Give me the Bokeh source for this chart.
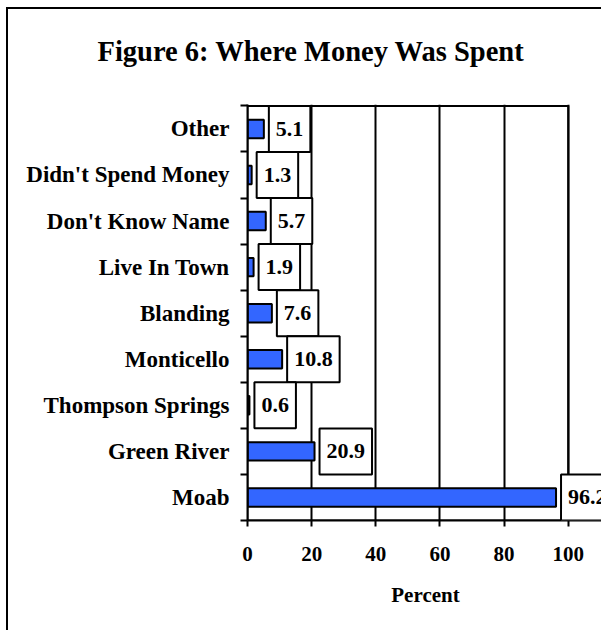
from bokeh.plotting import figure
from bokeh.models import (ColumnDataSource, Label, Range1d, FixedTicker, BoxAnnotation)
from bokeh.embed import file_html
from bokeh.resources import INLINE

# Data (top-to-bottom order as in the chart)
categories = ["Other", "Didn't Spend Money", "Don't Know Name", "Live In Town",
              "Blanding", "Monticello", "Thompson Springs", "Green River", "Moab"]
percent = [5.1, 1.3, 5.7, 1.9, 7.6, 10.8, 0.6, 20.9, 96.2]
x_ticks = [0, 20, 40, 60, 80, 100]

n = len(categories)
ypos = [n - 1 - i + 0.5 for i in range(n)]
labels = [f"{v:.1f}" for v in percent]

src = ColumnDataSource(dict(cat=categories, val=percent, y=ypos, lab=labels))

FONT = "Liberation Serif"
BLUE = "#3366FF"

p = figure(width=595, height=623, output_backend="svg", toolbar_location=None,
           x_range=Range1d(0, 111), y_range=Range1d(0, n + 0.03),
           min_border_left=239, min_border_right=0, min_border_bottom=112,
           min_border_top=10)

p.styles = {"margin-left": "6px", "margin-top": "7px",
            "border-left": "2px solid black", "border-top": "2px solid black"}

p.title.text = "Figure 6: Where Money Was Spent"
p.title.text_font = FONT
p.title.text_font_style = "bold"
p.title.text_font_size = "28.5px"
p.title.align = "left"
p.title.offset = -150
p.title.standoff = 48
p.title.padding = dict(left=0, right=0, top=0, bottom=14)
p.title.text_color = "black"

p.hbar(y="y", right="val", left=0, height=0.4, source=src,
       fill_color=BLUE, line_color="black", line_width=2)

# plot frame spanning the tick range (0-100)
p.add_layout(BoxAnnotation(left=x_ticks[0], right=x_ticks[-1], bottom=0, top=n,
                           fill_alpha=0, line_color="black", line_width=2,
                           line_alpha=1))

for v, yy, t in zip(percent, ypos, labels):
    p.add_layout(Label(x=v, y=yy, text=t, x_offset=5,
                       text_align="left", text_baseline="middle",
                       text_font=FONT, text_font_style="bold", text_font_size="22px",
                       text_color="black",
                       background_fill_color="white", border_line_color="black",
                       border_line_width=2,
                       padding=dict(left=7, right=7, top=16, bottom=16)))

# x axis
p.xaxis.ticker = FixedTicker(ticks=x_ticks)
p.xaxis.axis_label = "Percent"
p.xaxis.axis_label_text_font = FONT
p.xaxis.axis_label_text_font_style = "bold"
p.xaxis.axis_label_text_font_size = "21px"
p.xaxis.axis_label_text_color = "black"
p.xaxis.axis_label_standoff = 19
p.xaxis.major_label_text_font = FONT
p.xaxis.major_label_text_font_style = "bold"
p.xaxis.major_label_text_font_size = "21px"
p.xaxis.major_label_text_color = "black"
p.xaxis.major_label_standoff = 20
p.xaxis.axis_line_color = "black"
p.xaxis.axis_line_width = 2
p.xaxis.major_tick_line_color = "black"
p.xaxis.major_tick_line_width = 2
p.xaxis.major_tick_out = 6
p.xaxis.major_tick_in = 0
p.xaxis.minor_tick_line_color = None

# y axis: labels at category centres, ticks at boundaries
p.yaxis.ticker = FixedTicker(ticks=ypos, minor_ticks=list(range(n + 1)))
p.yaxis.major_label_overrides = {y: c for y, c in zip(ypos, categories)}
p.yaxis.major_label_text_font = FONT
p.yaxis.major_label_text_font_style = "bold"
p.yaxis.major_label_text_font_size = "23px"
p.yaxis.major_label_text_color = "black"
p.yaxis.major_label_standoff = 11
p.yaxis.major_tick_line_color = None
p.yaxis.major_tick_out = 7
p.yaxis.minor_tick_line_color = "black"
p.yaxis.minor_tick_line_width = 2
p.yaxis.minor_tick_out = 7
p.yaxis.minor_tick_in = 0
p.yaxis.axis_line_color = "black"
p.yaxis.axis_line_width = 2

p.xgrid.grid_line_color = "black"
p.xgrid.grid_line_width = 2
p.ygrid.grid_line_color = None

p.outline_line_color = None

open("out.html", "w").write(file_html(p, INLINE))
